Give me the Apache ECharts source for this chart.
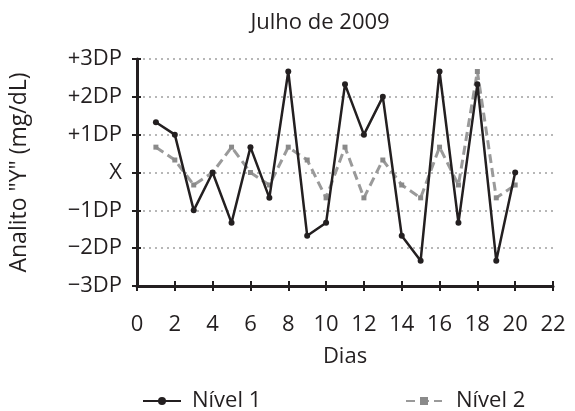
<!DOCTYPE html>
<html><head><meta charset="utf-8">
<script src="https://cdn.jsdelivr.net/npm/echarts@6/dist/echarts.min.js"></script>
<style>html,body{margin:0;padding:0;background:#fff}#c{width:575px;height:411px}</style>
</head><body><div id="c"></div>
<script>
var days = [1,2,3,4,5,6,7,8,9,10,11,12,13,14,15,16,17,18,19,20];
var nivel1 = [1.33,1,-1,0,-1.33,0.67,-0.67,2.67,-1.67,-1.33,2.33,1,2,-1.67,-2.33,2.67,-1.33,2.33,-2.33,0];
var nivel2 = [0.67,0.33,-0.33,0,0.67,0,-0.33,0.67,0.33,-0.67,0.67,-0.67,0.33,-0.33,-0.67,0.67,-0.33,2.67,-0.67,-0.33];
var yTickLabels = {'3':'+3DP','2':'+2DP','1':'+1DP','0':'X','-1':'\u22121DP','-2':'\u22122DP','-3':'\u22123DP'};
var FONT = 'Open Sans';
var TXT = '#231f20';
var chart = echarts.init(document.getElementById('c'));
function pairs(v){return days.map(function(d,i){return [d,v[i]];});}
var xBase = {type:'value',min:0,max:22,interval:2};
var yBase = {type:'value',min:-3,max:3,interval:1};
chart.setOption({
  animation:false,
  textStyle:{fontFamily:FONT},
  title:{text:'Julho de 2009',left:315,top:7,textAlign:'center',
    textStyle:{fontFamily:FONT,fontSize:22,fontWeight:'normal',color:TXT}},
  grid:{left:137,right:22,top:59,bottom:125},
  xAxis:[Object.assign({},xBase,{
    name:'Dias',nameLocation:'middle',nameGap:60,
    nameTextStyle:{fontFamily:FONT,fontSize:22,color:TXT},
    axisLine:{onZero:false,lineStyle:{color:TXT,width:3}},
    axisTick:{length:5,lineStyle:{color:TXT,width:2}},
    axisLabel:{margin:28,fontFamily:FONT,fontSize:22,color:TXT},
    splitLine:{show:false}
  }),Object.assign({},xBase,{
    position:'bottom',axisLine:{show:false,onZero:false},
    axisTick:{inside:true,length:5,lineStyle:{color:TXT,width:2}},
    axisLabel:{show:false},splitLine:{show:false}
  })],
  yAxis:[Object.assign({},yBase,{
    name:'Analito "Y" (mg/dL)',nameLocation:'middle',nameGap:106,
    nameTextStyle:{fontFamily:FONT,fontSize:23,color:TXT},
    axisLine:{show:true,onZero:false,lineStyle:{color:TXT,width:3}},
    axisTick:{show:true,length:5,lineStyle:{color:TXT,width:2}},
    axisLabel:{margin:15,fontFamily:FONT,fontSize:22,color:TXT,
      formatter:function(v){return yTickLabels[String(Math.round(v))];}},
    splitLine:{show:true,lineStyle:{color:'#a0a0a0',width:1.5,type:[2,4]}}
  }),Object.assign({},yBase,{
    position:'left',axisLine:{show:false,onZero:false},
    axisTick:{show:true,inside:true,length:4,lineStyle:{color:TXT,width:2}},
    axisLabel:{show:false},splitLine:{show:false}
  })],
  legend:[
    {data:['Nível 1'],left:137,top:385,itemWidth:38,itemHeight:10,itemGap:10,
     textStyle:{fontFamily:FONT,fontSize:22,color:TXT,padding:[0,0,0,6]}},
    {data:['Nível 2'],left:400,top:385,itemWidth:36,itemHeight:10,itemGap:10,
     textStyle:{fontFamily:FONT,fontSize:22,color:TXT,padding:[0,0,0,9]}}
  ],
  series:[
    {name:'Nível 1',type:'line',data:pairs(nivel1),
     lineStyle:{color:TXT,width:2.5},itemStyle:{color:TXT},
     symbol:'circle',symbolSize:6,z:3},
    {name:'Nível 2',type:'line',data:pairs(nivel2),
     lineStyle:{color:'#9a9a9a',width:3,type:[9,5]},itemStyle:{color:'#8a8a8a'},
     symbol:'rect',symbolSize:5,z:2}
  ]
});
</script></body></html>
